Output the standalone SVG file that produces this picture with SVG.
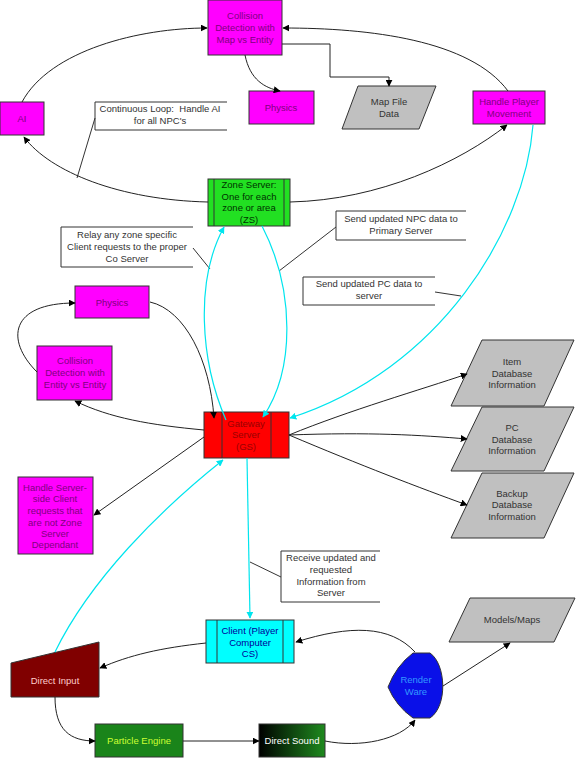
<svg xmlns="http://www.w3.org/2000/svg" width="576" height="758" viewBox="0 0 576 758">
<defs>
<marker id="ab" viewBox="0 0 10 10" refX="9" refY="5" markerWidth="7" markerHeight="7" orient="auto" markerUnits="userSpaceOnUse"><path d="M0,0 L10,5 L0,10 z" fill="#000"/></marker>
<marker id="ac" viewBox="0 0 10 10" refX="9" refY="5" markerWidth="7" markerHeight="7" orient="auto" markerUnits="userSpaceOnUse"><path d="M0,0 L10,5 L0,10 z" fill="#00e5ee"/></marker>
<linearGradient id="gds" x1="0" y1="0" x2="1" y2="0"><stop offset="0" stop-color="#000"/><stop offset="1" stop-color="#1e8a1e"/></linearGradient>
</defs>
<style>
text{font-family:"Liberation Sans",Arial,sans-serif;font-size:9.5px;text-anchor:middle}
.mag{fill:#ff00ff;stroke:#333;stroke-width:1}
.mt{fill:#800080}
.gray{fill:#c0c0c0;stroke:#333;stroke-width:1}
.gt{fill:#333}
.c{fill:none;stroke:#222;stroke-width:1}
.cy{fill:none;stroke:#00e5ee;stroke-width:1.2}
.co{fill:none;stroke:#333;stroke-width:1}
.ct{fill:#333}
</style>
<rect width="576" height="758" fill="#fff"/>

<g id="callout-loop">
<path class="co" d="M227,102 H95 V130 H227 M95,118 L77,178"/>
<text class="ct" x="160" y="112">Continuous Loop:&#160; Handle AI</text>
<text class="ct" x="160" y="124">for all NPC's</text>
</g>
<g id="callout-relay">
<path class="co" d="M193,227 H61 V267 H193 M193,248 L210,269"/>
<text class="ct" x="127" y="238">Relay any zone specific</text>
<text class="ct" x="127" y="250">Client requests to the proper</text>
<text class="ct" x="127" y="262">Co Server</text>
</g>
<g id="callout-npc">
<path class="co" d="M466,211 H336 V240 H466 M336,227 L279,271"/>
<text class="ct" x="401" y="222">Send updated NPC data to</text>
<text class="ct" x="401" y="234">Primary Server</text>
</g>
<g id="callout-pc">
<path class="co" d="M435,277 H303 V305 H435 M435,292 L461,296"/>
<text class="ct" x="369" y="287">Send updated PC data to</text>
<text class="ct" x="369" y="299">server</text>
</g>
<g id="callout-receive">
<path class="co" d="M380,551 H281 V602 H380 M281,577 L250,562"/>
<text class="ct" x="331" y="561">Receive updated and</text>
<text class="ct" x="331" y="573">requested</text>
<text class="ct" x="331" y="585">Information from</text>
<text class="ct" x="331" y="596">Server</text>
</g>

<g id="collision-map">
<rect class="mag" x="208" y="0" width="74" height="55"/>
<text class="mt" x="245" y="19">Collision</text>
<text class="mt" x="245" y="31">Detection with</text>
<text class="mt" x="245" y="43">Map vs Entity</text>
</g>
<g id="physics-top">
<rect class="mag" x="249" y="91" width="65" height="33"/>
<text class="mt" x="281" y="111">Physics</text>
</g>
<g id="map-file">
<path class="gray" d="M358,86 H436 L419,129 H342 Z"/>
<text class="gt" x="389" y="105">Map File</text>
<text class="gt" x="389" y="117">Data</text>
</g>
<g id="handle-player">
<rect class="mag" x="473" y="91" width="72" height="33"/>
<text class="mt" x="509" y="105">Handle Player</text>
<text class="mt" x="509" y="117">Movement</text>
</g>
<g id="ai">
<rect class="mag" x="0" y="102" width="44" height="33"/>
<text class="mt" x="22" y="122">AI</text>
</g>
<g id="zone-server">
<rect x="208" y="179" width="82" height="47" fill="#22e022" stroke="#333"/>
<path d="M214,179 V226 M284,179 V226" stroke="#333" fill="none"/>
<text x="249" y="188" fill="#003300">Zone Server:</text>
<text x="249" y="200" fill="#003300">One for each</text>
<text x="249" y="211" fill="#003300">zone or area</text>
<text x="249" y="223" fill="#003300">(ZS)</text>
</g>
<g id="physics-left">
<rect class="mag" x="75" y="286" width="74" height="32"/>
<text class="mt" x="112" y="306">Physics</text>
</g>
<g id="collision-entity">
<rect class="mag" x="37" y="346" width="75" height="54"/>
<text class="mt" x="75" y="364">Collision</text>
<text class="mt" x="75" y="376">Detection with</text>
<text class="mt" x="75" y="388">Entity vs Entity</text>
</g>
<g id="gateway">
<rect x="204" y="412" width="85" height="46" fill="#ff0000" stroke="#333"/>
<path d="M222,412 V458 M271,412 V458" stroke="#333" fill="none"/>
<text x="246" y="427" fill="#990000">Gateway</text>
<text x="246" y="438" fill="#990000">Server</text>
<text x="246" y="450" fill="#990000">(GS)</text>
</g>
<g id="item-db">
<path class="gray" d="M482,340 H574 L544,406 H451 Z"/>
<text class="gt" x="512" y="365">Item</text>
<text class="gt" x="512" y="377">Database</text>
<text class="gt" x="512" y="388">Information</text>
</g>
<g id="pc-db">
<path class="gray" d="M482,407 H574 L544,471 H451 Z"/>
<text class="gt" x="512" y="431">PC</text>
<text class="gt" x="512" y="443">Database</text>
<text class="gt" x="512" y="454">Information</text>
</g>
<g id="backup-db">
<path class="gray" d="M482,473 H574 L544,538 H451 Z"/>
<text class="gt" x="512" y="497">Backup</text>
<text class="gt" x="512" y="508">Database</text>
<text class="gt" x="512" y="520">Information</text>
</g>
<g id="handle-server">
<rect class="mag" x="18" y="477" width="75" height="77"/>
<text class="mt" x="55" y="491">Handle Server-</text>
<text class="mt" x="55" y="502">side Client</text>
<text class="mt" x="55" y="514">requests that</text>
<text class="mt" x="55" y="526">are not Zone</text>
<text class="mt" x="55" y="537">Server</text>
<text class="mt" x="55" y="548">Dependant</text>
</g>
<g id="client">
<rect x="206" y="620" width="88" height="43" fill="#00ffff" stroke="#333"/>
<path d="M217,620 V663 M283,620 V663" stroke="#333" fill="none"/>
<text x="250" y="634" fill="#000099">Client (Player</text>
<text x="250" y="646" fill="#000099">Computer</text>
<text x="250" y="657" fill="#000099">CS)</text>
</g>
<g id="models-maps">
<path class="gray" d="M470,598 H575 L554,642 H449 Z"/>
<text class="gt" x="512" y="623">Models/Maps</text>
</g>
<g id="direct-input">
<path d="M11,663 L99,642 V697 H11 Z" fill="#800000" stroke="#333"/>
<text x="55" y="684" fill="#ffcccc">Direct Input</text>
</g>
<g id="render-ware">
<path d="M413,653 L430,653 C446,664 448,706 430,718 L413,718 Q396,706 388,687 Q396,666 413,653 Z" fill="#0a10e8" stroke="#333"/>
<text x="416" y="683" fill="#3399ff">Render</text>
<text x="416" y="695" fill="#3399ff">Ware</text>
</g>
<g id="particle-engine">
<rect x="95" y="724" width="88" height="33" fill="#1a841a" stroke="#333"/>
<text x="139" y="744" fill="#ccff33">Particle Engine</text>
</g>
<g id="direct-sound">
<rect x="259" y="724" width="66" height="33" fill="url(#gds)" stroke="#333"/>
<text x="292" y="744" fill="#ffffff">Direct Sound</text>
</g>

<g id="connectors">
<path class="c" d="M22,102 C50,50 140,28 207,28" marker-end="url(#ab)"/>
<path class="c" d="M508,91 C470,40 370,28 283,28" marker-end="url(#ab)"/>
<path class="c" d="M208,202 C120,200 50,172 24,137" marker-end="url(#ab)"/>
<path class="c" d="M290,202 C380,200 460,162 507,125" marker-end="url(#ab)"/>
<path class="c" d="M282,44 H330 V77 H389 V86" marker-end="url(#ab)"/>
<path class="c" d="M245,55 C250,80 265,88 280,91" marker-end="url(#ab)"/>
<path class="c" d="M150,302 C185,310 210,360 214,418" marker-end="url(#ab)"/>
<path class="c" d="M37,372 C5,340 10,303 75,303" marker-end="url(#ab)"/>
<path class="c" d="M204,430 C150,425 110,418 75,401" marker-end="url(#ab)"/>
<path class="c" d="M204,437 L94,515" marker-end="url(#ab)"/>
<path class="c" d="M289,435 C350,410 420,390 467,374" marker-end="url(#ab)"/>
<path class="c" d="M289,435 C370,432 420,435 467,439" marker-end="url(#ab)"/>
<path class="c" d="M289,435 C360,465 420,488 467,505" marker-end="url(#ab)"/>
<path class="c" d="M206,643 C160,648 130,655 100,668" marker-end="url(#ab)"/>
<path class="c" d="M415,652 C390,625 350,625 296,642" marker-end="url(#ab)"/>
<path class="c" d="M443,686 L510,643" marker-end="url(#ab)"/>
<path class="c" d="M55,697 C55,730 70,741 95,741" marker-end="url(#ab)"/>
<path class="c" d="M183,741 L259,741" marker-end="url(#ab)"/>
<path class="c" d="M325,741 C360,748 400,740 415,720" marker-end="url(#ab)"/>
<path class="cy" d="M226,420 C200,360 195,280 224,227" marker-end="url(#ac)"/>
<path class="cy" d="M262,226 C295,290 295,370 263,417" marker-end="url(#ac)"/>
<path class="cy" d="M533,125 C525,230 440,370 290,418" marker-end="url(#ac)"/>
<path class="cy" d="M55,652 C90,580 160,510 223,460" marker-end="url(#ac)"/>
<path class="cy" d="M247,458 L250,618" marker-end="url(#ac)"/>
</g>
</svg>
